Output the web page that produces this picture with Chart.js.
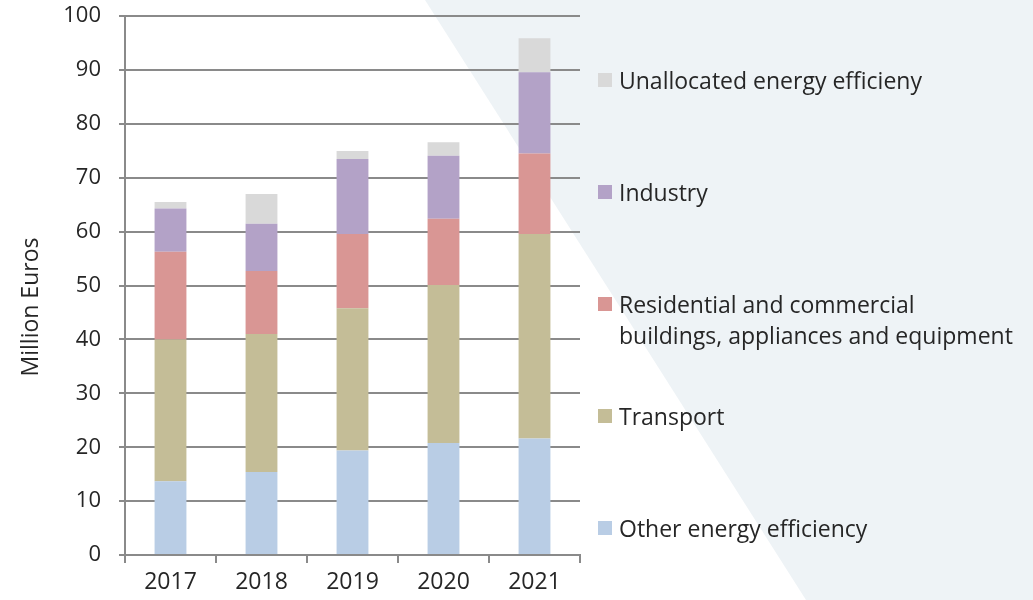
<!DOCTYPE html>
<html>
<head>
<meta charset="utf-8">
<script src="https://cdn.jsdelivr.net/npm/chart.js@4"></script>
<style>
  body { margin: 0; background: #fff; }
  #wrap { position: relative; width: 1033px; height: 600px; overflow: hidden; }
  #bgShape {
    position: absolute; left: 0; top: 0; width: 1033px; height: 600px;
    background: #eef3f6;
    clip-path: polygon(425px 0, 1033px 0, 1033px 600px, 806px 600px);
  }
  /* canvas sits a little higher so the top gridline lands near y=16 */
  #myChart { position: absolute; left: 0; top: -15px; }
  #legend { position: absolute; left: 598px; top: 0; font-family: "Open Sans", sans-serif; font-size: 23px; color: #262626; }
  .lg-item { position: absolute; left: 0; white-space: pre; line-height: 31px; }
  .lg-box { position: absolute; left: 0; top: 8px; width: 14px; height: 14px; }
  .lg-text { position: absolute; left: 21px; top: 0; }
</style>
</head>
<body>
<div id="wrap">
  <div id="bgShape"></div>
  <canvas id="myChart" width="1033" height="615"></canvas>
  <div id="legend"></div>
</div>
<script>
// categories and series (Million Euros)
var years = ['2017', '2018', '2019', '2020', '2021'];

var otherEff    = [13.7, 15.4, 19.4, 20.8, 21.6];
var transport   = [26.3, 25.6, 26.4, 29.3, 38.0];
var residential = [16.3, 11.7, 13.8, 12.3, 14.9];
var industry    = [8.0, 8.8, 13.9, 11.7, 15.1];
var unallocated = [1.2, 5.5, 1.5, 2.5, 6.3];

var yTicks = [0, 10, 20, 30, 40, 50, 60, 70, 80, 90, 100];

var seriesNames = ['Other energy efficiency', 'Transport',
  'Residential and commercial\nbuildings, appliances and equipment',
  'Industry', 'Unallocated energy efficieny'];
var seriesColors = ['#b9cde5', '#c4bd97', '#d99694', '#b3a2c7', '#d9d9d9'];
var seriesData = [otherEff, transport, residential, industry, unallocated];

var gridGrey = '#8a8a8a';
var textColor = '#262626';

// draws the rotated y title a bit below the axis centre, like the original
var yTitlePlugin = {
  id: 'yTitle',
  afterDraw: function(chart) {
    var c = chart.ctx;
    c.save();
    c.translate(31, 322);
    c.rotate(-Math.PI / 2);
    c.font = '23px "Open Sans"';
    c.fillStyle = textColor;
    c.textAlign = 'center';
    c.textBaseline = 'middle';
    c.fillText('Million Euros', 0, 0);
    c.restore();
  }
};

var datasets = [];
for (var i = 0; i < seriesData.length; i++) {
  datasets.push({
    label: seriesNames[i],
    data: seriesData[i],
    backgroundColor: seriesColors[i],
    borderWidth: 0,
    barPercentage: 0.35,
    categoryPercentage: 1.0
  });
}

var ctx = document.getElementById('myChart').getContext('2d');
var chart = new Chart(ctx, {
  type: 'bar',
  data: { labels: years, datasets: datasets },
  options: {
    responsive: false,
    animation: false,
    layout: { padding: { left: 0, right: 453, top: 2, bottom: 0 } },
    plugins: { legend: { display: false }, tooltip: { enabled: false } },
    scales: {
      x: {
        stacked: true,
        offset: true,
        grid: { display: true, drawOnChartArea: false, drawTicks: true, tickLength: 8, color: gridGrey, lineWidth: 2, offset: true },
        border: { display: true, color: gridGrey, width: 2 },
        ticks: { color: textColor, font: { family: 'Open Sans', size: 23 }, padding: 6 },
        afterFit: function(scale) { scale.height = 45; }
      },
      y: {
        stacked: true,
        min: 0,
        max: 100,
        afterBuildTicks: function(scale) {
          scale.ticks = yTicks.map(function(v) { return { value: v }; });
        },
        grid: { color: gridGrey, lineWidth: 2, tickLength: 6 },
        border: { display: true, color: gridGrey, width: 2 },
        ticks: { color: textColor, font: { family: 'Open Sans', size: 22 }, padding: 18 },
        afterFit: function(scale) { scale.width = 125; }
      }
    }
  },
  plugins: [yTitlePlugin]
});

// legend on the right, top entry is the top of the stack
var legendEl = document.getElementById('legend');
for (var k = seriesData.length - 1, row = 0; k >= 0; k--, row++) {
  var item = document.createElement('div');
  item.className = 'lg-item';
  item.style.top = (65 + row * 112) + 'px';
  item.innerHTML = '<div class="lg-box" style="background:' + seriesColors[k] + '"></div>' +
    '<div class="lg-text"></div>';
  item.querySelector('.lg-text').textContent = seriesNames[k];
  legendEl.appendChild(item);
}
</script>
</body>
</html>
